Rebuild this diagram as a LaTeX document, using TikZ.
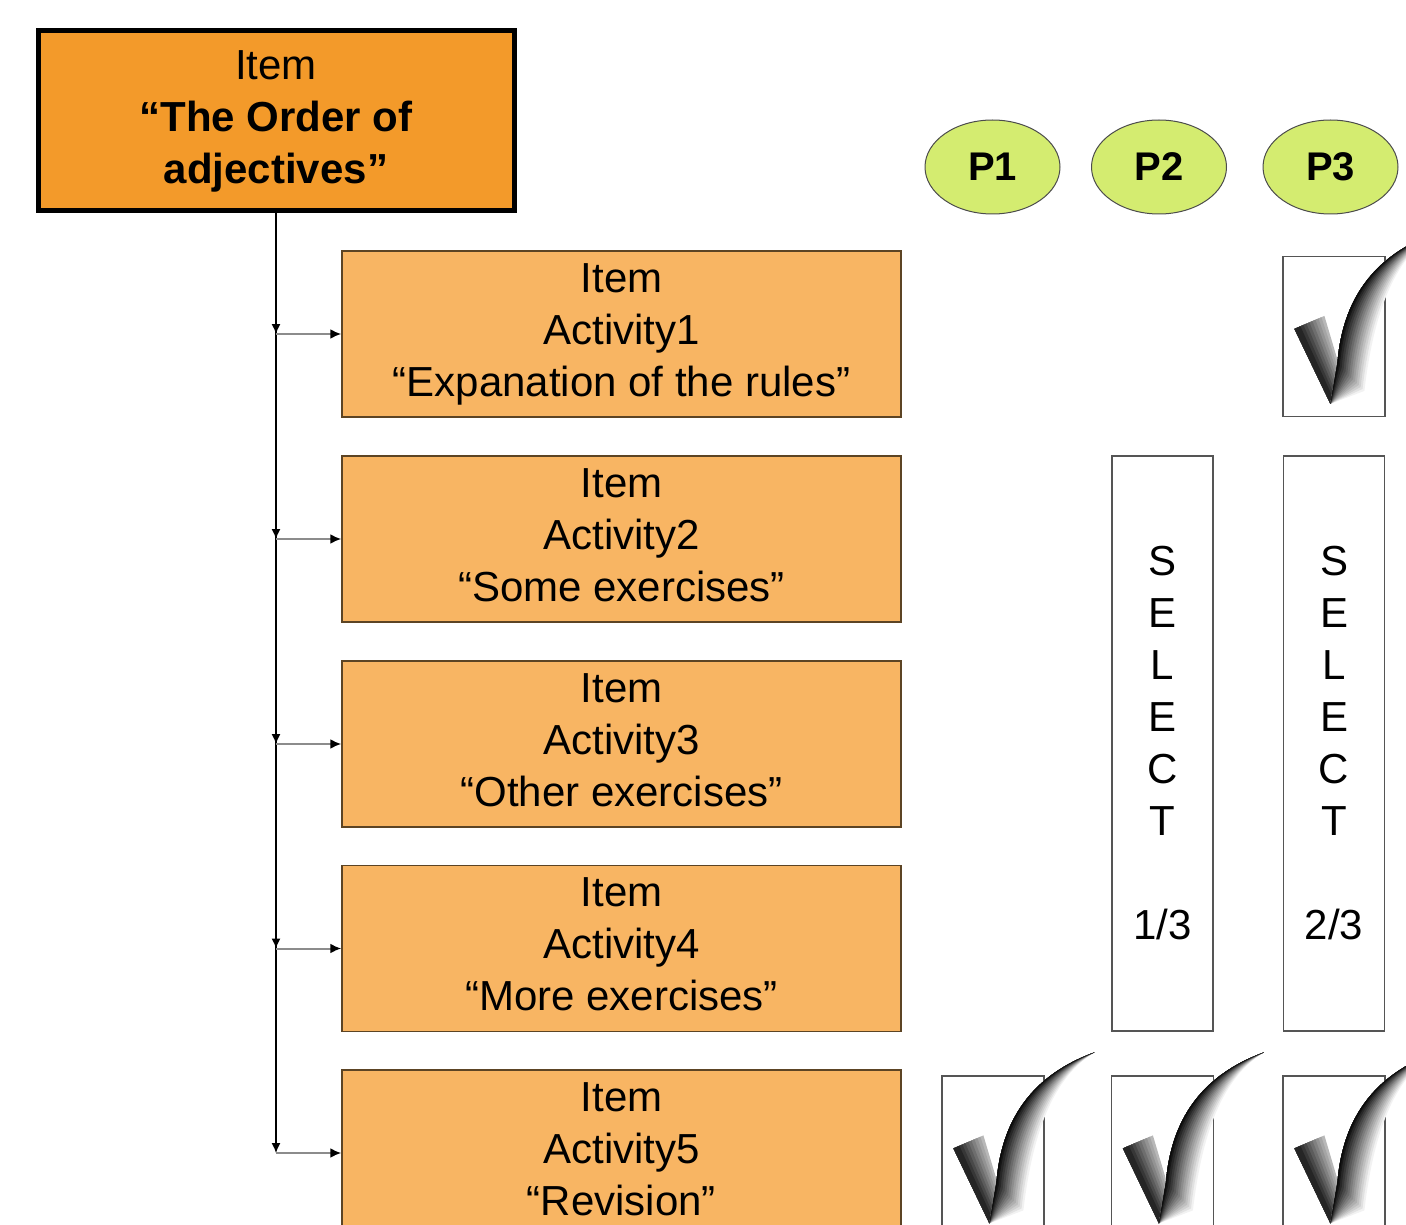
\documentclass[tikz,border=0pt]{standalone}
\usepackage{fontspec}
\setmainfont{Liberation Sans}
\usetikzlibrary{arrows.meta,shapes.geometric,calc}
\definecolor{topor}{HTML}{F39A2A}
\definecolor{actor}{HTML}{F8B563}
\definecolor{actborder}{HTML}{5C4424}
\definecolor{pgreen}{HTML}{D4EC70}
\definecolor{boxline}{HTML}{555555}
\newcommand\boxtext[1]{\raisebox{-3pt}{\begin{tabular}{@{}c@{}}#1\end{tabular}}}
\begin{document}
\begin{tikzpicture}[x=1pt,y=-1pt,
 bigfont/.style={font=\fontsize{42}{52}\selectfont},
 topbox/.style={draw=black, line width=5pt, fill=topor, minimum width=476pt, minimum height=180pt, bigfont, inner sep=0pt},
 actbox/.style={draw=actborder, line width=1.5pt, fill=actor, minimum width=559pt, minimum height=166pt, bigfont, inner sep=0pt},
 pell/.style={ellipse, draw=black!70, line width=1pt, fill=pgreen, minimum width=135pt, minimum height=94pt, inner sep=0pt, font=\fontsize{40}{48}\selectfont\bfseries},
 chkbox/.style={draw=boxline, line width=1.2pt, minimum width=102pt, minimum height=160pt, inner sep=0pt},
 selbox/.style={draw=boxline, line width=1.2pt, minimum width=101pt, minimum height=575pt, inner sep=0pt, align=center, bigfont},
 trunk/.style={line width=1.3pt, -{Latex[length=10pt,width=9pt]}},
 branch/.style={draw=black!45, line width=2pt, -{Latex[length=11pt,width=10pt,color=black]}},
 checkmk/.pic={
   \foreach \f in {1,0.9,0.8,0.7,0.6,0.5,0.4,0.3,0.2} {
     \pgfmathsetmacro\sv{100-72*\f}
     \fill[black!\sv] (12,73) -- ($(12,73)!\f!(42,60)$) -- ($(48,148)!\f!(56,107)$) -- (48,148) -- cycle;
   }
   \foreach \f in {1,0.93,0.86,0.79,0.72,0.65,0.58,0.51,0.44,0.37,0.3,0.23,0.16,0.09,0.04} {
     \pgfmathsetmacro\sv{100-95*\f}
     \fill[black!\sv] (48,148) -- (55,107) .. controls (60,45) and (90,0) .. (153,-23)
       .. controls ($(90,0)!\f!(115,0)$) and ($(60,45)!\f!(92,50)$) .. ($(55,107)!\f!(82,135)$) -- cycle;
   }
 },
 ]
\useasboundingbox (0,0) rectangle (1406,1225);
\clip (0,0) rectangle (1406,1225);

% main item
\node[topbox] (top) at (276,121) {\boxtext{Item\\\textbf{“The Order of}\\\textbf{adjectives”}}};

% activities
\node[actbox] (a1) at (621.5,334) {\boxtext{Item\\Activity1\\“Expanation of the rules”}};
\node[actbox] (a2) at (621.5,539) {\boxtext{Item\\Activity2\\“Some exercises”}};
\node[actbox] (a3) at (621.5,744) {\boxtext{Item\\Activity3\\“Other exercises”}};
\node[actbox] (a4) at (621.5,948.5) {\boxtext{Item\\Activity4\\“More exercises”}};
\node[actbox] (a5) at (621.5,1153) {\boxtext{Item\\Activity5\\“Revision”}};

% junctions on the trunk
\coordinate (j1) at (276,334);
\coordinate (j2) at (276,539);
\coordinate (j3) at (276,744);
\coordinate (j4) at (276,948.5);
\coordinate (j5) at (276,1153);
\foreach \i in {5,4,3,2,1} {
  \draw[trunk] (top.south) -- (j\i);
}
\foreach \i in {1,...,5} {
  \draw[branch] (j\i) -- (a\i.west);
}

% phases
\node[pell] (p1) at (992.5,167) {P1};
\node[pell] (p2) at (1159,167) {P2};
\node[pell] (p3) at (1330.5,167) {P3};

% select boxes
\node[selbox] (s2) at (1162.5,743.5) {S\\E\\L\\E\\C\\T\\[52pt]1/3};
\node[selbox] (s3) at (1334,743.5) {S\\E\\L\\E\\C\\T\\[52pt]2/3};

% check boxes
\node[chkbox] (c31) at (1334,336.5) {};
\node[chkbox] (c15) at (993,1156) {};
\node[chkbox] (c25) at (1162.5,1156) {};
\node[chkbox] (c35) at (1334,1156) {};
\pic at (c31.north west) {checkmk};
\pic at (c15.north west) {checkmk};
\pic at (c25.north west) {checkmk};
\pic at (c35.north west) {checkmk};
\end{tikzpicture}
\end{document}
